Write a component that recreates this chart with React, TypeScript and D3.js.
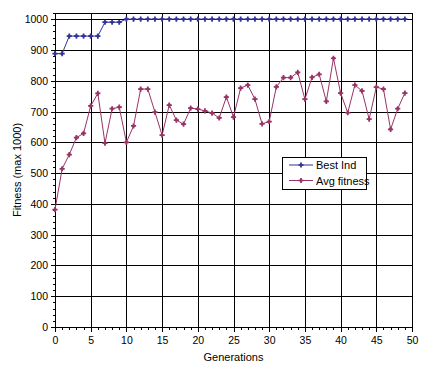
import { useEffect, useRef } from "react";
import * as d3 from "d3";

const generations = d3.range(0, 50);

const bestInd = [
  888, 888, 945, 945, 945, 945, 945, 990, 990, 990,
  1000, 1000, 1000, 1000, 1000, 1000, 1000, 1000, 1000, 1000,
  1000, 1000, 1000, 1000, 1000, 1000, 1000, 1000, 1000, 1000,
  1000, 1000, 1000, 1000, 1000, 1000, 1000, 1000, 1000, 1000,
  1000, 1000, 1000, 1000, 1000, 1000, 1000, 1000, 1000, 1000,
];

const avgFitness = [
  381, 514, 560, 615, 629, 718, 759, 597, 709, 714,
  600, 653, 773, 773, 698, 623, 721, 672, 659, 711,
  708, 702, 695, 679, 747, 682, 776, 786, 740, 660,
  667, 780, 810, 810, 827, 740, 811, 821, 733, 873,
  760, 696, 786, 767, 675, 779, 773, 642, 709, 760,
];

const xTicks = [0, 5, 10, 15, 20, 25, 30, 35, 40, 45, 50];
const yTicks = [0, 100, 200, 300, 400, 500, 600, 700, 800, 900, 1000];

const seriesNames = ["Best Ind", "Avg fitness"];
const seriesColors = ["#333399", "#993366"];

const FONT = "'Liberation Sans', Arial, sans-serif";

export default function App() {
  const svgRef = useRef<SVGSVGElement | null>(null);
  const width = 425;
  const height = 373;

  useEffect(() => {
    const svg = d3.select(svgRef.current);
    svg.selectAll("*").remove();

    const left = 55;
    const right = 412;
    const top = 13;
    const bottom = 327;

    const x = d3.scaleLinear().domain([0, 50]).range([left, right]);
    const y = d3.scaleLinear().domain([0, 1020]).range([bottom, top]);
    const px = (v: number) => Math.round(v) + 0.5;

    svg.append("rect").attr("width", width).attr("height", height).attr("fill", "#fff");

    const grid = svg.append("g").attr("stroke", "#000").attr("shape-rendering", "crispEdges");

    // horizontal grid
    grid.selectAll(".hg")
      .data(yTicks.filter(d => d > 0))
      .enter()
      .append("line")
      .attr("x1", left)
      .attr("x2", right)
      .attr("y1", d => px(y(d)))
      .attr("y2", d => px(y(d)));

    // vertical grid
    grid.selectAll(".vg")
      .data(xTicks.filter(d => d > 0))
      .enter()
      .append("line")
      .attr("y1", top)
      .attr("y2", bottom)
      .attr("x1", d => px(x(d)))
      .attr("x2", d => px(x(d)));

    // frame top
    grid.append("line")
      .attr("x1", left).attr("x2", px(right))
      .attr("y1", px(top)).attr("y2", px(top));

    // axes
    grid.append("line")
      .attr("x1", px(left)).attr("x2", px(left))
      .attr("y1", top).attr("y2", px(bottom));
    grid.append("line")
      .attr("x1", left).attr("x2", px(right))
      .attr("y1", px(bottom)).attr("y2", px(bottom));

    // minor / major ticks
    grid.selectAll(".xt")
      .data(d3.range(0, 51))
      .enter()
      .append("line")
      .attr("x1", d => px(x(d)))
      .attr("x2", d => px(x(d)))
      .attr("y1", bottom)
      .attr("y2", d => bottom + (d % 5 === 0 ? 5 : 3));

    grid.selectAll(".yt")
      .data(d3.range(0, 1021, 20))
      .enter()
      .append("line")
      .attr("y1", d => px(y(d)))
      .attr("y2", d => px(y(d)))
      .attr("x1", d => left - (d % 100 === 0 ? 4 : 2))
      .attr("x2", left);

    // tick labels
    svg.selectAll(".xl")
      .data(xTicks)
      .enter()
      .append("text")
      .attr("x", d => x(d) + 0.5)
      .attr("y", 344)
      .attr("text-anchor", "middle")
      .attr("font-family", FONT)
      .attr("font-size", 10.5)
      .text(d => d);

    svg.selectAll(".yl")
      .data(yTicks)
      .enter()
      .append("text")
      .attr("x", 48)
      .attr("y", d => y(d) + 4)
      .attr("text-anchor", "end")
      .attr("font-family", FONT)
      .attr("font-size", 10.5)
      .text(d => d);

    svg.append("text")
      .attr("x", (left + right) / 2)
      .attr("y", 361)
      .attr("text-anchor", "middle")
      .attr("font-family", FONT)
      .attr("font-size", 11)
      .text("Generations");

    svg.append("text")
      .attr("transform", `translate(21,${(top + bottom) / 2}) rotate(-90)`)
      .attr("text-anchor", "middle")
      .attr("font-family", FONT)
      .attr("font-size", 11)
      .text("Fitness (max 1000)");

    const cross = d3.symbol().type(d3.symbolCross).size(15)();
    const dot = d3.symbol().type(d3.symbolCircle).size(7)();
    const line = d3.line<number>()
      .x((_, i) => x(generations[i]))
      .y(d => y(d));

    const addMarker = (g: d3.Selection<any, any, any, any>, cx: number, cy: number, color: string) => {
      const m = g.append("g").attr("transform", `translate(${cx},${cy})`).attr("fill", color);
      m.append("path").attr("d", cross);
      m.append("path").attr("d", dot);
    };

    [bestInd, avgFitness].forEach((data, k) => {
      svg.append("path")
        .datum(data)
        .attr("fill", "none")
        .attr("stroke", seriesColors[k])
        .attr("stroke-width", 1)
        .attr("d", line);
      const mg = svg.append("g");
      data.forEach((d, i) => addMarker(mg, x(generations[i]), y(d), seriesColors[k]));
    });

    // legend
    const lg = svg.append("g");
    lg.append("rect")
      .attr("x", 282.5).attr("y", 157.5)
      .attr("width", 84).attr("height", 32)
      .attr("fill", "#fff").attr("stroke", "#000")
      .attr("shape-rendering", "crispEdges");
    seriesNames.forEach((name, k) => {
      const ly = 165 + k * 15.5;
      lg.append("line")
        .attr("x1", 289).attr("x2", 313)
        .attr("y1", ly).attr("y2", ly)
        .attr("stroke", seriesColors[k]);
      addMarker(lg, 301, ly, seriesColors[k]);
      lg.append("text")
        .attr("x", 316)
        .attr("y", ly + 4)
        .attr("font-family", FONT)
        .attr("font-size", 11)
        .text(name);
    });
  }, []);

  return (
    <svg
      ref={svgRef}
      width={width}
      height={height}
      style={{ position: "absolute", left: 0, top: 0 }}
    ></svg>
  );
}
